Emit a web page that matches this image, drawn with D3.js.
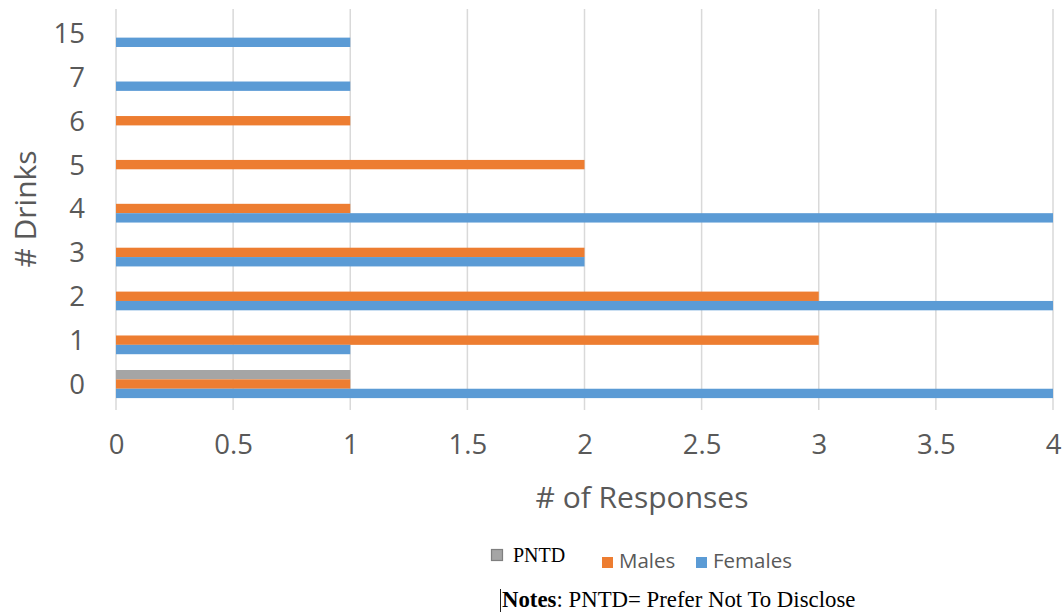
<!DOCTYPE html>
<html>
<head>
<meta charset="utf-8">
<script src="https://cdn.jsdelivr.net/npm/d3@7"></script>
<style>
  html, body { margin: 0; padding: 0; background: #ffffff; }
  svg { display: block; }
</style>
</head>
<body>
<svg id="chart" width="1064" height="612"></svg>
<script>
// Number of drinks reported, responses per gender group
const categories = ["0", "1", "2", "3", "4", "5", "6", "7", "15"];
const seriesNames = ["PNTD", "Males", "Females"];
const pntdValues    = [1, 0, 0, 0, 0, 0, 0, 0, 0];
const malesValues   = [1, 3, 3, 2, 1, 2, 1, 0, 0];
const femalesValues = [4, 1, 4, 2, 4, 0, 0, 1, 1];
const xTicks = [0, 0.5, 1, 1.5, 2, 2.5, 3, 3.5, 4];
const colors = { PNTD: "#A5A5A5", Males: "#ED7D31", Females: "#5B9BD5" };

const valuesBySeries = { PNTD: pntdValues, Males: malesValues, Females: femalesValues };

const svg = d3.select("#chart");
const textColor = "#595959";
const sansFont = "'Open Sans', 'Noto Sans', sans-serif";
const serifFont = "'Liberation Serif', 'DejaVu Serif', serif";

const plot = { left: 116, right: 1053, top: 9, bottom: 406 };

const x = d3.scaleLinear().domain([0, 4]).range([plot.left, plot.right]);

// categories run bottom-to-top
const y = d3.scaleBand()
  .domain(categories)
  .range([plot.bottom, plot.top + 2])
  .paddingInner(0.36)
  .paddingOuter(0.18);

// within a band: PNTD on top, then Males, then Females
const ySub = d3.scaleBand()
  .domain(seriesNames)
  .range([0, y.bandwidth()]);

// vertical gridlines
svg.append("g")
  .selectAll("line")
  .data(xTicks)
  .join("line")
  .attr("x1", d => x(d))
  .attr("x2", d => x(d))
  .attr("y1", plot.top)
  .attr("y2", plot.bottom + 4)
  .attr("stroke", "#D9D9D9")
  .attr("stroke-width", 1.5);

// bars
const rows = [];
categories.forEach((c, i) => {
  seriesNames.forEach(s => {
    rows.push({ cat: c, series: s, value: valuesBySeries[s][i] });
  });
});

svg.append("g")
  .selectAll("rect")
  .data(rows.filter(d => d.value > 0))
  .join("rect")
  .attr("x", x(0))
  .attr("y", d => y(d.cat) + ySub(d.series))
  .attr("width", d => x(d.value) - x(0))
  .attr("height", ySub.bandwidth())
  .attr("fill", d => colors[d.series]);

// x axis labels
const xAxis = d3.axisBottom(x)
  .tickValues(xTicks)
  .tickSize(0)
  .tickPadding(0)
  .tickFormat(d3.format("~g"));

const gx = svg.append("g")
  .attr("transform", `translate(0, 454)`)
  .call(xAxis);
gx.select(".domain").remove();
gx.selectAll("text")
  .attr("dy", "0")
  .attr("fill", textColor)
  .style("font-family", sansFont)
  .style("font-size", "27.5px");

// y axis labels
const yAxis = d3.axisLeft(y).tickSize(0).tickPadding(0);
const gy = svg.append("g")
  .attr("transform", `translate(85, 0)`)
  .call(yAxis);
gy.select(".domain").remove();
gy.selectAll("text")
  .attr("dy", "0.36em")
  .attr("fill", textColor)
  .style("font-family", sansFont)
  .style("font-size", "27.5px");

// axis titles
svg.append("text")
  .attr("x", 642)
  .attr("y", 508)
  .attr("text-anchor", "middle")
  .attr("fill", textColor)
  .style("font-family", sansFont)
  .style("font-size", "30px")
  .text("# of Responses");

svg.append("text")
  .attr("transform", "translate(36, 209) rotate(-90)")
  .attr("text-anchor", "middle")
  .attr("fill", textColor)
  .style("font-family", sansFont)
  .style("font-size", "30px")
  .text("# Drinks");

// legend
const legend = svg.append("g");

legend.append("rect")
  .attr("x", 491.5).attr("y", 549.5)
  .attr("width", 11).attr("height", 11)
  .attr("fill", colors.PNTD)
  .attr("stroke", "#7F7F7F")
  .attr("stroke-width", 1.2);
legend.append("text")
  .attr("x", 513).attr("y", 562)
  .attr("fill", "#000")
  .style("font-family", serifFont)
  .style("font-size", "20px")
  .text("PNTD");

legend.append("rect")
  .attr("x", 602).attr("y", 557)
  .attr("width", 11).attr("height", 11)
  .attr("fill", colors.Males);
legend.append("text")
  .attr("x", 619).attr("y", 568)
  .attr("fill", textColor)
  .style("font-family", sansFont)
  .style("font-size", "20.5px")
  .text("Males");

legend.append("rect")
  .attr("x", 696).attr("y", 557)
  .attr("width", 11).attr("height", 11)
  .attr("fill", colors.Females);
legend.append("text")
  .attr("x", 713).attr("y", 568)
  .attr("fill", textColor)
  .style("font-family", sansFont)
  .style("font-size", "20.5px")
  .text("Females");

// footnote
svg.append("line")
  .attr("x1", 500.5).attr("x2", 500.5)
  .attr("y1", 589).attr("y2", 612)
  .attr("stroke", "#222")
  .attr("stroke-width", 1);

const note = svg.append("text")
  .attr("x", 502).attr("y", 607)
  .attr("fill", "#000")
  .style("font-family", serifFont)
  .style("font-size", "22.8px");
note.append("tspan").style("font-weight", "bold").text("Notes");
note.append("tspan").text(": PNTD= Prefer Not To Disclose");
</script>
</body>
</html>
